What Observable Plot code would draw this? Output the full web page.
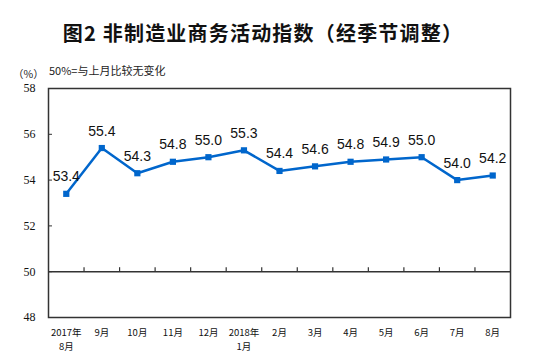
<!DOCTYPE html>
<html><head><meta charset="utf-8">
<script src="https://cdn.jsdelivr.net/npm/d3@7"></script>
<script src="https://cdn.jsdelivr.net/npm/@observablehq/plot@0.6"></script>
<style>
body{margin:0;background:#fff;}
#wrap{position:relative;width:554px;height:361px;overflow:hidden;}
#title{position:absolute;left:0;width:526px;top:20px;text-align:center;font:bold 20px "Noto Sans CJK SC";color:#111;letter-spacing:1.2px;line-height:26px;}
#unit{position:absolute;left:13px;top:66px;font:10.5px "Noto Sans CJK SC";color:#222;}
#note{position:absolute;left:49px;top:62px;font:11px "Noto Sans CJK SC";color:#222;}
</style></head>
<body><div id="wrap">
<div id="title">图2 非制造业商务活动指数（经季节调整）</div>
<div id="unit">（%）</div>
<div id="note">50%=与上月比较无变化</div>
</div>
<script>
const monthLabels = ["2017年","9月","10月","11月","12月","2018年","2月","3月","4月","5月","6月","7月","8月"];
const subLabels = ["8月","","","","","1月","","","","","","",""];
const values = [53.4,55.4,54.3,54.8,55.0,55.3,54.4,54.6,54.8,54.9,55.0,54.0,54.2];
const yTicks = [48,50,52,54,56,58];

const data = monthLabels.map((m,i)=>({i, m, s: subLabels[i], v: values[i]}));
const bounds = d3.range(0.5, monthLabels.length - 1, 1);

const chart = Plot.plot({
  width: 554, height: 361,
  marginTop: 88, marginBottom: 44, marginLeft: 48, marginRight: 44,
  x: {domain: [-0.5, monthLabels.length - 0.5], axis: null},
  y: {domain: [48, 58]},
  style: {background: "transparent", color: "#111"},
  marks: [
    Plot.axisY({ticks: yTicks, label: null, tickSize: -4, tickPadding: 17, fontSize: 12, fontFamily: "Liberation Serif", fill: "#111", stroke: "#333"}),
    Plot.ruleY([50], {stroke: "#333", strokeWidth: 1.5}),
    Plot.ruleX(bounds, {x: d=>d, y1: 50, y2: 50, insetBottom: 4, stroke: "#333", strokeWidth: 1.2}),
    Plot.frame({stroke: "#333", strokeWidth: 1.5}),
    Plot.line(data, {x: "i", y: "v", stroke: "#0066CC", strokeWidth: 2.5}),
    Plot.dot(data, {x: "i", y: "v", symbol: "square", r: 3.5, fill: "#0066CC"}),
    Plot.text(data, {x: "i", y: "v", text: d=>d.v.toFixed(1), dy: -17, fontSize: 14, fontFamily: "Liberation Sans", fill: "#111"}),
    Plot.text(data, {x: "i", y: ()=>48, text: "m", dy: 15, fontSize: 9.5, fontFamily: "Noto Sans CJK SC", fill: "#111"}),
    Plot.text(data.filter(d=>d.s), {x: "i", y: ()=>48, text: "s", dy: 29.5, fontSize: 9.5, fontFamily: "Noto Sans CJK SC", fill: "#111"})
  ]
});
chart.style.position = "absolute";
chart.style.left = "0"; chart.style.top = "0";
document.getElementById("wrap").prepend(chart);
</script>
</body></html>
